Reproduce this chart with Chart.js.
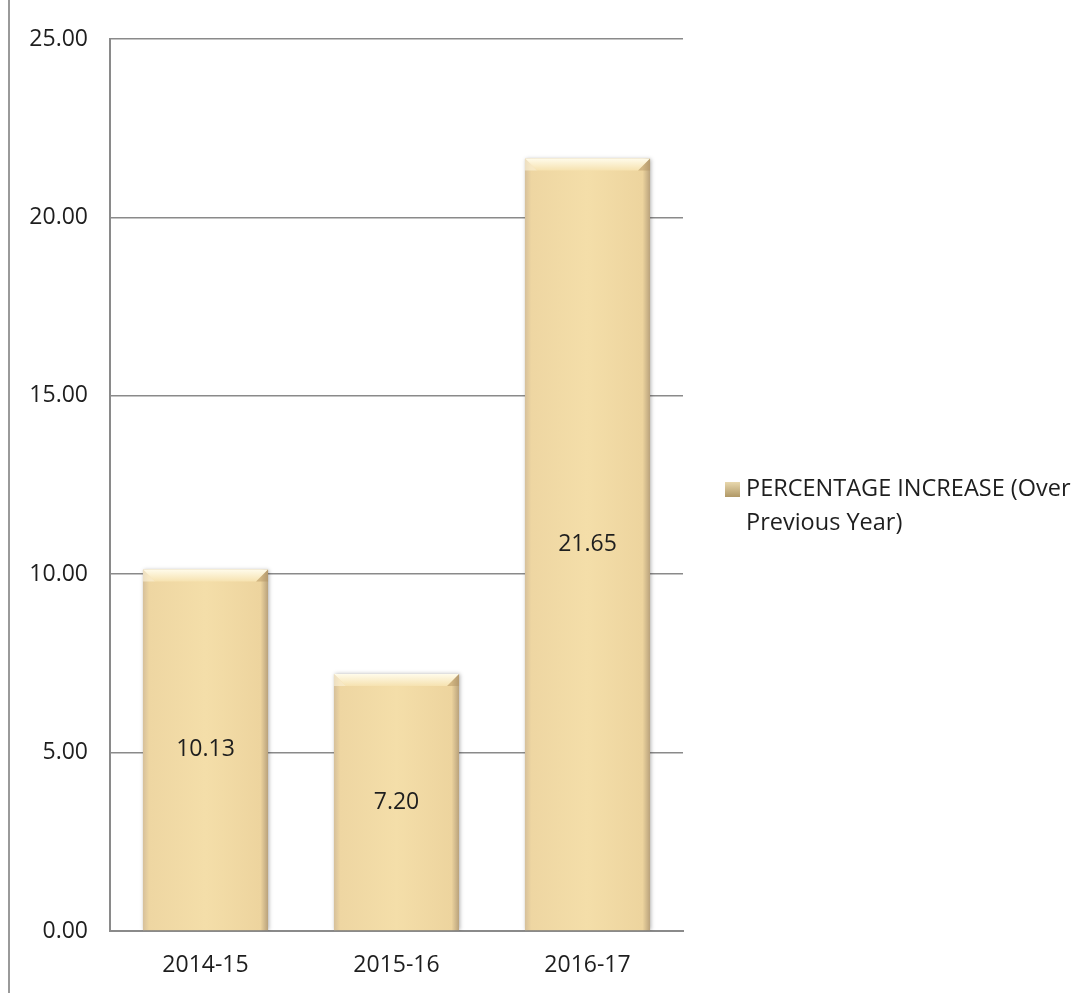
<!DOCTYPE html>
<html>
<head>
<meta charset="utf-8">
<script src="https://cdn.jsdelivr.net/npm/chart.js@4/dist/chart.umd.min.js"></script>
<style>
  html, body { margin: 0; padding: 0; background: #fff; }
  #wrap { width: 1083px; height: 993px; }
</style>
</head>
<body>
<div id="wrap"><canvas id="chart" width="1083" height="993"></canvas></div>
<script>
const CATEGORIES = ["2014-15", "2015-16", "2016-17"];
const INCREASE = [10.13, 7.20, 21.65];
const SERIES_LABEL = ["PERCENTAGE INCREASE (Over", "Previous Year)"];
const Y_MIN = 0;
const Y_MAX = 25;
const Y_STEP = 5;

const FONT = "'Open Sans', 'Liberation Sans', sans-serif";
const TEXT = "#1e1e1e";

// soft shadow, flat tan fill with darker edges, bevelled top on each bar
const barDecor = {
  id: "barDecor",
  beforeDatasetDraw(chart) {
    const ctx = chart.ctx;
    chart.getDatasetMeta(0).data.forEach((bar) => {
      const half = bar.width / 2;
      if (!isFinite(bar.x) || !isFinite(half)) return;
      const g = ctx.createLinearGradient(bar.x - half, 0, bar.x + half, 0);
      g.addColorStop(0, "#d6c09a");
      g.addColorStop(0.05, "#eed6a2");
      g.addColorStop(0.5, "#f4dea9");
      g.addColorStop(0.94, "#edd49e");
      g.addColorStop(1, "#b9a27c");
      bar.options.backgroundColor = g;
    });
    ctx.save();
    ctx.shadowColor = "rgba(0,0,0,0.3)";
    ctx.shadowBlur = 4;
    ctx.shadowOffsetX = 1;
    ctx.shadowOffsetY = 0;
  },
  afterDatasetDraw(chart) {
    const ctx = chart.ctx;
    ctx.restore();
    chart.getDatasetMeta(0).data.forEach((bar) => {
      const l = bar.x - bar.width / 2;
      const r = bar.x + bar.width / 2;
      const t = bar.y;
      const d = 12;
      ctx.save();
      // bright top strip
      const g = ctx.createLinearGradient(0, t, 0, t + d);
      g.addColorStop(0, "#fffbea");
      g.addColorStop(1, "#f6e2b0");
      ctx.beginPath();
      ctx.moveTo(l, t);
      ctx.lineTo(r, t);
      ctx.lineTo(r - d, t + d);
      ctx.lineTo(l + d, t + d);
      ctx.closePath();
      ctx.fillStyle = g;
      ctx.fill();
      // lit left corner
      ctx.fillStyle = "rgba(255,248,225,0.55)";
      ctx.beginPath();
      ctx.moveTo(l, t);
      ctx.lineTo(l + d, t + d);
      ctx.lineTo(l, t + d);
      ctx.closePath();
      ctx.fill();
      // shaded right corner
      ctx.fillStyle = "rgba(175,145,95,0.45)";
      ctx.beginPath();
      ctx.moveTo(r, t);
      ctx.lineTo(r - d, t + d);
      ctx.lineTo(r, t + d);
      ctx.closePath();
      ctx.fill();
      ctx.restore();
    });
  }
};

// value labels in the middle of each bar
const valueLabels = {
  id: "valueLabels",
  afterDatasetsDraw(chart) {
    const ctx = chart.ctx;
    const meta = chart.getDatasetMeta(0);
    ctx.save();
    ctx.font = "23px " + FONT;
    ctx.fillStyle = TEXT;
    ctx.textAlign = "center";
    ctx.textBaseline = "middle";
    meta.data.forEach((bar, i) => {
      const v = chart.data.datasets[0].data[i];
      ctx.fillText(v.toFixed(2), bar.x, (bar.y + bar.base) / 2);
    });
    ctx.restore();
  }
};

// legend drawn by hand so the label can wrap onto two lines
const sideLegend = {
  id: "sideLegend",
  afterDraw(chart) {
    const ctx = chart.ctx;
    const area = chart.chartArea;
    const x = area.right + 42;
    const y = (area.top + area.bottom) / 2 + 4;
    ctx.save();
    const g = ctx.createLinearGradient(x, y - 8, x, y + 8);
    g.addColorStop(0, "#ecdcb2");
    g.addColorStop(1, "#b09866");
    ctx.fillStyle = g;
    ctx.fillRect(x, y - 7, 15, 15);
    ctx.font = "23.5px " + FONT;
    ctx.fillStyle = TEXT;
    ctx.textAlign = "left";
    ctx.textBaseline = "middle";
    SERIES_LABEL.forEach((line, i) => {
      ctx.fillText(line, x + 21, y + i * 34);
    });
    ctx.restore();
  }
};

// thin frame line at the left edge of the picture
const leftFrame = {
  id: "leftFrame",
  beforeDraw(chart) {
    const ctx = chart.ctx;
    ctx.save();
    ctx.strokeStyle = "#9a9a9a";
    ctx.lineWidth = 2;
    ctx.beginPath();
    ctx.moveTo(9, 0);
    ctx.lineTo(9, chart.height);
    ctx.stroke();
    ctx.restore();
  }
};

new Chart(document.getElementById("chart"), {
  type: "bar",
  data: {
    labels: CATEGORIES,
    datasets: [{
      label: SERIES_LABEL.join(" "),
      data: INCREASE,
      backgroundColor: () => "#f1d9a3",
      borderWidth: 0,
      barPercentage: 0.655,
      categoryPercentage: 1
    }]
  },
  options: {
    responsive: false,
    animation: false,
    layout: { padding: { top: 39, right: 400, bottom: 0, left: 0 } },
    plugins: {
      legend: { display: false },
      tooltip: { enabled: false }
    },
    scales: {
      x: {
        afterFit(scale) { scale.height = 62; },
        grid: { display: false, drawTicks: false },
        border: { display: true, color: "#8a8a8a", width: 2 },
        ticks: { color: TEXT, padding: 21, font: { family: FONT, size: 23 } }
      },
      y: {
        min: Y_MIN,
        max: Y_MAX,
        afterFit(scale) { scale.width = 110; },
        grid: { color: "#8a8a8a", lineWidth: 1.5, drawTicks: false },
        border: { display: true, color: "#8a8a8a", width: 2 },
        ticks: {
          stepSize: Y_STEP,
          color: TEXT,
          padding: 22,
          font: { family: FONT, size: 23 },
          callback: (v) => Number(v).toFixed(2)
        }
      }
    }
  },
  plugins: [leftFrame, barDecor, valueLabels, sideLegend]
});
</script>
</body>
</html>
